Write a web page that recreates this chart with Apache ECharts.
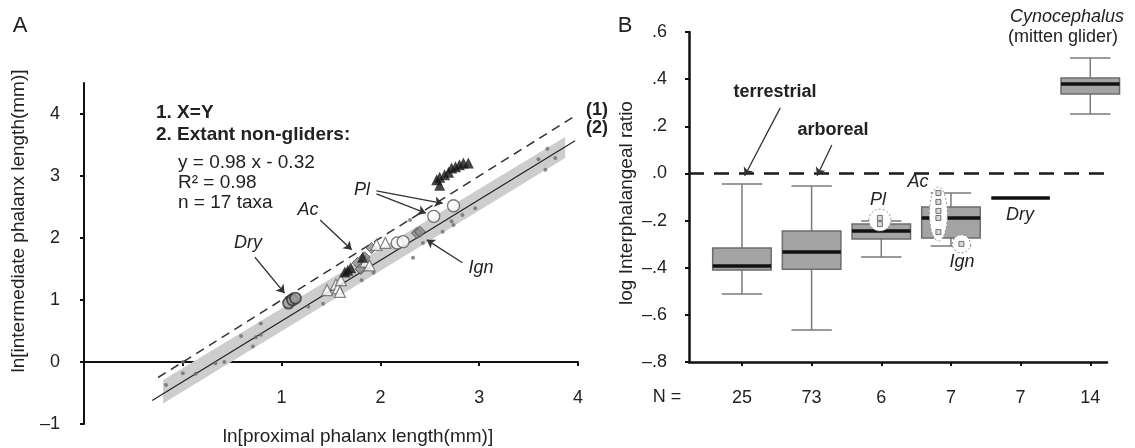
<!DOCTYPE html>
<html>
<head>
<meta charset="utf-8">
<script src="https://cdn.jsdelivr.net/npm/echarts@6/dist/echarts.min.js"></script>
<style>
  html, body { margin: 0; background: #fff; }
  #chart { width: 1135px; height: 448px; }
</style>
</head>
<body>
<div id="chart"></div>
<script>
// ---- panel A: ln proximal vs ln intermediate phalanx length
const xEqualsY = [[-0.25, -0.25], [3.95, 3.95]];
const fitLine = [[-0.31, -0.62], [3.97, 3.57]];
const bandX = [-0.2, 3.87];
const bandLo = [-0.67, 3.29];
const bandHi = [-0.29, 3.63];

const nonGliders = [
  [-0.17, -0.37], [0.0, -0.18], [0.0, 0.0], [0.13, -0.19], [0.33, -0.02], [0.42, 0.0],
  [0.59, 0.42], [0.71, 0.25], [0.74, 0.4], [0.79, 0.44], [0.79, 0.62], [1.27, 0.89],
  [1.42, 0.94], [1.81, 1.32], [1.93, 1.44], [2.33, 1.68], [2.43, 1.92], [2.63, 2.1],
  [2.74, 2.21], [2.83, 2.37], [2.72, 2.27], [2.96, 2.48], [2.3, 2.29], [3.6, 3.27],
  [3.69, 3.44], [3.77, 3.29], [3.67, 3.1]
];
const glidersFilled = [
  [2.57, 2.94], [2.6, 2.85], [2.6, 2.98], [2.65, 3.02], [2.69, 3.06], [2.72, 3.13],
  [2.76, 3.15], [2.8, 3.18], [2.84, 3.21], [2.89, 3.21],
  [1.64, 1.45], [1.67, 1.48], [1.7, 1.52], [1.82, 1.69]
];
const openTriangles = [
  [1.46, 1.16], [1.55, 1.25], [1.57, 1.19], [1.59, 1.13], [1.6, 1.32],
  [1.85, 1.62], [1.89, 1.56], [1.96, 1.89], [2.05, 1.92]
];
const openCircles = [[2.74, 2.52], [2.54, 2.35], [2.17, 1.92], [2.23, 1.94]];
const dryCircles = [[1.07, 0.95], [1.11, 1.0], [1.14, 1.03]];
const grayDiamonds = [
  [1.77, 1.6], [1.8, 1.5], [1.84, 1.69], [1.87, 1.56], [1.91, 1.84], [2.37, 2.08], [2.4, 2.1]
];

// ---- panel B: log interphalangeal ratio by group
const nLabels = ['25', '73', '6', '7', '7', '14'];
const boxMin = [-0.512, -0.664, -0.355, -0.308, -0.104, 0.252];
const boxQ1 = [-0.41, -0.406, -0.278, -0.274, -0.104, 0.337];
const boxMed = [-0.393, -0.333, -0.244, -0.189, -0.104, 0.379];
const boxQ3 = [-0.316, -0.244, -0.215, -0.142, -0.104, 0.405];
const boxMax = [-0.045, -0.053, -0.202, -0.083, -0.104, 0.49];
const outliers = [
  [1.98, -0.189], [1.98, -0.215],
  [2.82, -0.083], [2.82, -0.121], [2.82, -0.159], [2.82, -0.189], [2.82, -0.249],
  [3.15, -0.299]
];

const FONT = '"Liberation Sans", Arial, sans-serif';
const chart = echarts.init(document.getElementById('chart'));

const dash = (v) => String(v).replace('-', '\u2013');
const arrow = (a, b) => [
  { coord: a, symbol: 'none' },
  { coord: b, symbol: 'arrow' }
];

const option = {
  backgroundColor: '#fff',
  animation: false,
  textStyle: { fontFamily: FONT },
  grid: [
    { left: 84, top: 83, width: 494, height: 341, outerBoundsMode: 'none', containLabel: false },
    { left: 689, top: 32, width: 418, height: 330, outerBoundsMode: 'none', containLabel: false }
  ],
  xAxis: [
    {
      // axis drawn through y = 0 (62 px above the grid bottom)
      gridIndex: 0, type: 'value', min: -1, max: 4, interval: 1, position: 'bottom', offset: -62,
      axisLine: { onZero: false, lineStyle: { color: '#111', width: 2 } },
      axisTick: { length: 4, lineStyle: { color: '#111', width: 2 } },
      axisLabel: {
        margin: 27, fontSize: 18, color: '#222', fontFamily: FONT,
        formatter: (v) => (v >= 1 ? String(v) : '')
      },
      splitLine: { show: false }
    },
    {
      gridIndex: 1, type: 'value', min: -0.76, max: 5.24,
      axisLine: { onZero: false, lineStyle: { color: '#111', width: 2.5 } },
      axisTick: { length: 4, customValues: [0, 1, 2, 3, 4, 5], lineStyle: { color: '#111', width: 2 } },
      axisLabel: {
        margin: 27, fontSize: 18, color: '#222', fontFamily: FONT,
        customValues: [0, 1, 2, 3, 4, 5],
        formatter: (v) => nLabels[Math.round(v)]
      },
      splitLine: { show: false }
    }
  ],
  yAxis: [
    {
      gridIndex: 0, type: 'value', min: -1, max: 4.5,
      axisLine: { show: true, onZero: false, lineStyle: { color: '#111', width: 2 } },
      axisTick: { show: true, length: 4, customValues: [-1, 0, 1, 2, 3, 4], lineStyle: { color: '#111', width: 2 } },
      axisLabel: {
        margin: 24, fontSize: 18, color: '#222', fontFamily: FONT,
        customValues: [-1, 0, 1, 2, 3, 4],
        formatter: (v) => dash(v)
      },
      splitLine: { show: false }
    },
    {
      gridIndex: 1, type: 'value', min: -0.8, max: 0.6, interval: 0.2,
      axisLine: { show: true, onZero: false, lineStyle: { color: '#111', width: 2.5 } },
      axisTick: { show: true, length: 4, lineStyle: { color: '#111', width: 2 } },
      axisLabel: {
        margin: 22, fontSize: 18, color: '#222', fontFamily: FONT,
        formatter: (v) => {
          const s = Math.abs(v).toFixed(1).replace(/^0/, '');
          return (v < -1e-9 ? '\u2013' : '') + s;
        }
      },
      splitLine: { show: false }
    }
  ],
  series: [
    {
      // prediction band around the fit
      type: 'custom', xAxisIndex: 0, yAxisIndex: 0, z: 1, silent: true,
      data: [[0]],
      renderItem: (params, api) => {
        const pts = [];
        bandX.forEach((x, i) => pts.push(api.coord([x, bandLo[i]])));
        for (let i = bandX.length - 1; i >= 0; i--) pts.push(api.coord([bandX[i], bandHi[i]]));
        return { type: 'polygon', shape: { points: pts }, style: { fill: '#cdcdcd' } };
      }
    },
    {
      type: 'line', xAxisIndex: 0, yAxisIndex: 0, data: xEqualsY, showSymbol: false, z: 3,
      lineStyle: { color: '#333', width: 1.5, type: [9, 6] }
    },
    {
      type: 'line', xAxisIndex: 0, yAxisIndex: 0, data: fitLine, showSymbol: false, z: 3,
      lineStyle: { color: '#222', width: 1.2 }
    },
    {
      type: 'scatter', xAxisIndex: 0, yAxisIndex: 0, data: nonGliders, symbolSize: 4, z: 4,
      itemStyle: { color: '#6e6e6e' },
      markLine: {
        silent: true, symbol: 'none', symbolSize: 8, label: { show: false },
        lineStyle: { color: '#333', width: 1.3, type: 'solid' },
        data: [
          arrow([0.73, 1.69], [1.03, 1.11]),
          arrow([1.39, 2.29], [1.71, 1.81]),
          arrow([1.96, 2.76], [2.63, 2.56]),
          arrow([1.96, 2.71], [2.46, 2.4]),
          arrow([2.83, 1.6], [2.47, 1.97])
        ]
      }
    },
    {
      type: 'scatter', xAxisIndex: 0, yAxisIndex: 0, data: grayDiamonds, symbol: 'diamond', symbolSize: 11, z: 5,
      itemStyle: { color: '#8c8c8c', borderColor: '#444', borderWidth: 1 }
    },
    {
      type: 'scatter', xAxisIndex: 0, yAxisIndex: 0, data: openTriangles, symbol: 'triangle', symbolSize: 11, z: 5,
      itemStyle: { color: '#fff', borderColor: '#666', borderWidth: 1.2 }
    },
    {
      type: 'scatter', xAxisIndex: 0, yAxisIndex: 0, data: openCircles, symbolSize: 12, z: 5,
      itemStyle: { color: '#fff', borderColor: '#555', borderWidth: 1.3 }
    },
    {
      type: 'scatter', xAxisIndex: 0, yAxisIndex: 0, data: dryCircles, symbolSize: 11, z: 5,
      itemStyle: { color: '#9a9a9a', borderColor: '#333', borderWidth: 1.8 }
    },
    {
      type: 'scatter', xAxisIndex: 0, yAxisIndex: 0, data: glidersFilled, symbol: 'triangle', symbolSize: 11, z: 6,
      itemStyle: { color: '#151515' }
    },
    {
      // box-and-whisker per group
      type: 'custom', xAxisIndex: 1, yAxisIndex: 1, z: 2, silent: true,
      data: nLabels.map((n, i) => [i, boxMin[i], boxQ1[i], boxMed[i], boxQ3[i], boxMax[i]]),
      renderItem: (params, api) => {
        const x = api.value(0);
        const p = [1, 2, 3, 4, 5].map((k) => api.coord([x, api.value(k)]));
        const cx = p[0][0];
        const unit = api.size([1, 0])[0];
        const bw = unit * 0.42, cw = unit * 0.29;
        const wStyle = { stroke: '#7a7a7a', lineWidth: 1.5 };
        return {
          type: 'group',
          children: [
            { type: 'line', shape: { x1: cx, y1: p[0][1], x2: cx, y2: p[1][1] }, style: wStyle },
            { type: 'line', shape: { x1: cx, y1: p[3][1], x2: cx, y2: p[4][1] }, style: wStyle },
            { type: 'line', shape: { x1: cx - cw, y1: p[0][1], x2: cx + cw, y2: p[0][1] }, style: wStyle },
            { type: 'line', shape: { x1: cx - cw, y1: p[4][1], x2: cx + cw, y2: p[4][1] }, style: wStyle },
            {
              type: 'rect',
              shape: { x: cx - bw, y: p[3][1], width: bw * 2, height: p[1][1] - p[3][1] },
              style: { fill: '#a4a4a4', stroke: '#6c6c6c', lineWidth: 1.5 }
            },
            { type: 'line', shape: { x1: cx - bw, y1: p[2][1], x2: cx + bw, y2: p[2][1] }, style: { stroke: '#111', lineWidth: 3.5 } }
          ]
        };
      }
    },
    {
      type: 'scatter', xAxisIndex: 1, yAxisIndex: 1, data: outliers, symbol: 'rect', symbolSize: 5, z: 10,
      itemStyle: { color: '#d0d0d0', borderColor: '#555', borderWidth: 1 },
      markLine: {
        silent: true, symbol: 'none', symbolSize: 8, label: { show: false },
        lineStyle: { color: '#333', width: 1.3, type: 'solid' },
        data: [
          {
            yAxis: 0,
            lineStyle: { color: '#1a1a1a', width: 2.5, type: [15, 10] }
          },
          arrow([0.55, 0.278], [0.04, -0.01]),
          arrow([1.29, 0.121], [1.08, -0.01])
        ]
      }
    }
  ]
};

chart.setOption(option);

function txt(s, x, y, opt) {
  opt = opt || {};
  return {
    type: 'text', x: x, y: y, rotation: opt.rot || 0, z: 20, silent: true,
    style: {
      text: s, x: 0, y: 0, fill: '#222',
      fontFamily: FONT, fontSize: opt.size || 18,
      fontWeight: opt.bold ? 'bold' : 'normal',
      fontStyle: opt.italic ? 'italic' : 'normal',
      textAlign: opt.align || 'center', textVerticalAlign: 'middle'
    }
  };
}

// enclosures around the glider species points in panel B
const enc = (x, y, rx, ry) => {
  const c = chart.convertToPixel({ gridIndex: 1 }, [x, y]);
  return {
    type: 'ellipse', z: 5, silent: true,
    shape: { cx: c[0], cy: c[1], rx: rx, ry: ry },
    style: { fill: '#fff', stroke: '#999', lineWidth: 1, lineDash: [2, 2] }
  };
};

chart.setOption({
  graphic: [
    txt('A', 20, 26, { size: 22 }),
    txt('B', 625, 26, { size: 22 }),
    txt('1. X=Y', 156, 113, { bold: true, align: 'left', size: 19 }),
    txt('2. Extant non-gliders:', 156, 135, { bold: true, align: 'left', size: 19 }),
    txt('y = 0.98 x - 0.32', 178, 163, { align: 'left', size: 19 }),
    txt('R\u00b2 = 0.98', 178, 183, { align: 'left', size: 19 }),
    txt('n = 17 taxa', 178, 203, { align: 'left', size: 19 }),
    txt('(1)', 597, 110, { bold: true }),
    txt('(2)', 597, 128, { bold: true }),
    txt('Dry', 248, 243, { italic: true }),
    txt('Ac', 308, 210, { italic: true }),
    txt('Pl', 362, 190, { italic: true }),
    txt('Ign', 481, 268, { italic: true }),
    txt('ln[intermediate phalanx length(mm)]', 19, 221, { rot: Math.PI / 2, size: 19 }),
    txt('ln[proximal phalanx length(mm)]', 358, 437, { size: 19 }),
    txt('log Interphalangeal ratio', 627, 203, { rot: Math.PI / 2, size: 19 }),
    txt('terrestrial', 775, 92, { bold: true }),
    txt('arboreal', 833, 130, { bold: true }),
    txt('Cynocephalus', 1067, 17, { italic: true }),
    txt('(mitten glider)', 1063, 37),
    txt('Pl', 878, 200, { italic: true }),
    txt('Ac', 918, 182, { italic: true }),
    txt('Dry', 1020, 215, { italic: true }),
    txt('Ign', 962, 262, { italic: true }),
    txt('N =', 667, 397),
    enc(1.98, -0.198, 11, 11),
    enc(2.82, -0.172, 9, 27),
    enc(3.15, -0.299, 9, 9)
  ]
});
</script>
</body>
</html>
